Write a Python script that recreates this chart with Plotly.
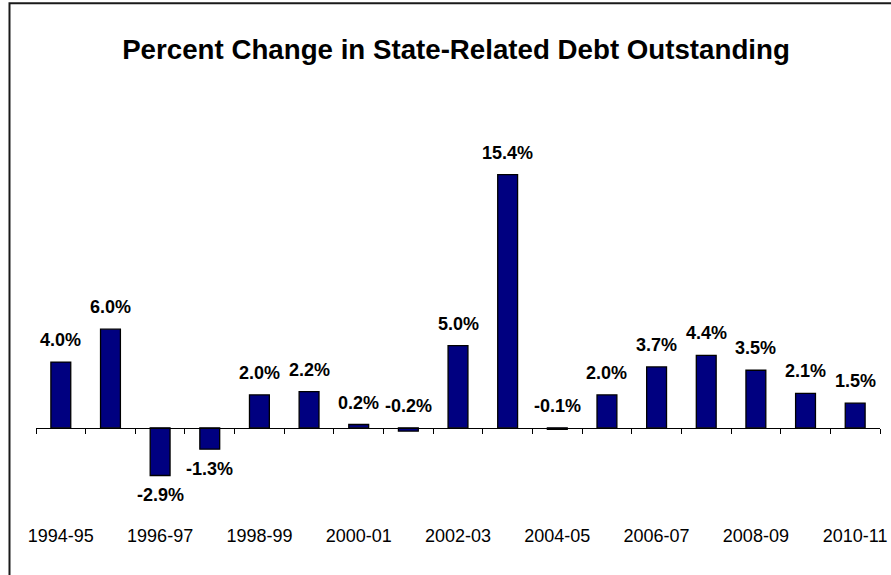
import plotly.graph_objects as go

# Fiscal years and the annual percent change in state-related debt outstanding
years = ["1994-95", "1995-96", "1996-97", "1997-98", "1998-99", "1999-00",
         "2000-01", "2001-02", "2002-03", "2003-04", "2004-05", "2005-06",
         "2006-07", "2007-08", "2008-09", "2009-10", "2010-11"]
pct_change = [4.0, 6.0, -2.9, -1.3, 2.0, 2.2, 0.2, -0.2, 5.0, 15.4,
              -0.1, 2.0, 3.7, 4.4, 3.5, 2.1, 1.5]

# every other year is labelled along the bottom
label_idx = list(range(0, len(years), 2))
label_text = [years[i] for i in label_idx]

title = "Percent Change in State-Related Debt Outstanding"

FONT = "Arial, 'Liberation Sans', sans-serif"
Y_MIN, Y_MAX = -5, 20

fig = go.Figure()
fig.add_trace(go.Bar(
    x=years, y=pct_change,
    marker=dict(color="#000080", line=dict(color="#000000", width=1.3)),
    hoverinfo="x+y",
    showlegend=False,
))

# carrier for the bottom year-label axis (draws nothing itself)
fig.add_trace(go.Scatter(
    x=label_idx, y=[0] * len(label_idx), xaxis="x2", yaxis="y",
    mode="none", hoverinfo="skip", showlegend=False,
))

# value labels: above the bar for gains (and tiny declines), below for declines
for yr, v in zip(years, pct_change):
    above = v >= 0 or v > -0.5
    fig.add_annotation(
        x=yr, y=max(v, 0) if above else v,
        xref="x", yref="y",
        text=f"{v:.1f}%",
        showarrow=False,
        yanchor="middle",
        yshift=22 if above else -20,
        font=dict(family=FONT, size=18, color="#000000", weight="bold"),
    )

# outer chart frame (left and top edges visible)
fig.add_shape(type="rect", xref="paper", yref="paper",
              x0=-0.0314, x1=1.2, y0=-0.5, y1=1.233,
              line=dict(color="#1a1a1a", width=2), fillcolor="rgba(0,0,0,0)")

fig.update_layout(
    width=891, height=575,
    margin=dict(l=36, r=11, t=99, b=65),
    paper_bgcolor="white", plot_bgcolor="white",
    bargap=0.6,
    title=dict(text=f"<b>{title}</b>", x=456 / 891, xanchor="center",
               xref="container", y=1 - 49 / 575, yanchor="middle", yref="container",
               font=dict(family=FONT, size=27.7, color="#000000")),
    xaxis=dict(
        type="category", automargin=False,
        anchor="free", position=(0 - Y_MIN) / (Y_MAX - Y_MIN),
        showline=True, linecolor="#000000", linewidth=1,
        ticks="outside", ticklen=5, tickwidth=1, tickcolor="#000000",
        tickson="boundaries", showticklabels=False, showgrid=False,
        zeroline=False, range=[-0.5, len(years) - 0.5],
    ),
    xaxis2=dict(
        type="linear", automargin=False,
        overlaying="x", anchor="y", side="bottom",
        range=[-0.5, len(years) - 0.5],
        tickmode="array", tickvals=label_idx, ticktext=label_text,
        ticks="", ticklabelstandoff=13,
        showline=False, showgrid=False, zeroline=False,
        tickfont=dict(family=FONT, size=18, color="#000000"),
    ),
    yaxis=dict(range=[Y_MIN, Y_MAX], visible=False, showgrid=False,
               zeroline=False, automargin=False),
)

fig.write_html("out.html")
